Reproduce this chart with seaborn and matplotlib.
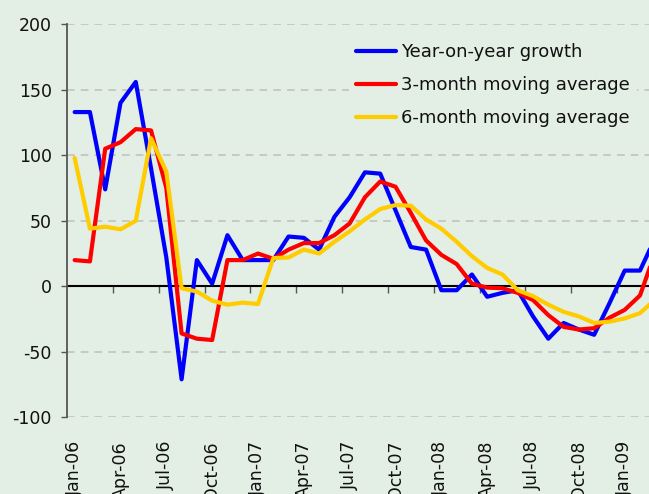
import numpy as np
import pandas as pd
import matplotlib
matplotlib.use("Agg")
import matplotlib.pyplot as plt
import seaborn as sns

# monthly categories Jan-06 .. Mar-09 (last one is cut off by the right edge)
months = pd.date_range("2006-01-01", "2009-03-01", freq="MS").strftime("%b-%y").tolist()

yoy_growth = [133, 133, 74, 140, 156, 90, 22, -71, 20, 2, 39, 20,
              20, 20, 38, 37, 28, 53, 68, 87, 86, 58, 30, 28,
              -3, -3, 9, -8, -5, -3, -23, -40, -28, -33, -37, -13,
              12, 12, 37]
ma3 = [20, 19, 105, 110, 120, 119, 75, -36, -40, -41, 20, 20,
       25, 21, 28, 33, 33, 39, 48, 68, 80, 76, 56, 35,
       24, 17, 2, -1, -1.5, -5, -10.5, -22, -31, -33, -32, -24,
       -18, -7, 26]
ma6 = [98, 44, 45.5, 43.5, 50, 113, 87.5, -1.5, -4, -11, -14, -12.5,
       -13.5, 21.5, 22, 28, 25, 34, 42, 51, 59, 62, 61.5, 51,
       44, 34, 23, 14, 9, -3, -7.5, -14, -19.5, -23, -28, -27,
       -24.5, -20.5, -10]

series_names = ["Year-on-year growth", "3-month moving average", "6-month moving average"]
colors = ["#0000FF", "#FF0000", "#FFCC00"]

bg = "#E3EEE4"

df = pd.concat([
    pd.DataFrame({"pos": np.arange(len(months)), "value": vals, "series": name})
    for name, vals in zip(series_names, [yoy_growth, ma3, ma6])
])

sns.set_style("white")
plt.rcParams["font.family"] = ["DejaVu Sans"]
plt.rcParams["axes.unicode_minus"] = False
plt.rcParams["text.color"] = "#111111"

fig = plt.figure(figsize=(6.49, 4.94), dpi=100, facecolor=bg)
ax = fig.add_axes([67 / 649, 1 - 417.3 / 494, 1 - 67 / 649, (417.3 - 24.3) / 494])
ax.set_facecolor(bg)

sns.lineplot(data=df, x="pos", y="value", hue="series", hue_order=series_names,
             palette=colors, linewidth=3, sort=False, ax=ax, zorder=3)

ax.set_xlim(-0.5, 37.59)
ax.set_ylim(-100, 200)
ax.set_xlabel("")
ax.set_ylabel("")

# y axis
yticks = list(range(-100, 201, 50))
ax.set_yticks(yticks)
ax.tick_params(axis="y", direction="out", length=4, width=1, color="#555555",
               labelsize=12.5, labelcolor="#111111", pad=7, left=True)
ax.yaxis.grid(True, linestyle=(0, (5, 4)), color="#BFBFBF", linewidth=1.1)
ax.xaxis.grid(False)
for t, gl in zip(yticks, ax.get_ygridlines()):
    if t == 0:
        gl.set_visible(False)

# category labels below the plot
ax.set_xticks(range(0, 37, 3))
ax.set_xticklabels(months[0:37:3], rotation=90, va="top", ha="center")
ax.tick_params(axis="x", length=0, labelsize=12.5, labelcolor="#111111", pad=17)

for s in ["top", "right", "bottom"]:
    ax.spines[s].set_visible(False)
ax.spines["left"].set_color("#555555")
ax.spines["left"].set_linewidth(1.3)

# zero line with category-boundary tick marks
ax.axhline(0, color="black", linewidth=1.5, zorder=2)
zero = ax.secondary_xaxis(1 / 3)
zero.set_xticks(np.arange(2.5, 38, 3))
zero.tick_params(axis="x", direction="out", length=5, width=1, color="#555555",
                 labelbottom=False, labeltop=False)
zero.spines["bottom"].set_visible(False)

leg = ax.legend(loc="upper left", bbox_to_anchor=(349 / 649, 1 - 36 / 494),
                bbox_transform=fig.transFigure, borderaxespad=0, borderpad=0.4,
                fontsize=13, handlelength=2.2, handletextpad=0.3, labelspacing=0.82,
                frameon=True, facecolor=bg, edgecolor="none", framealpha=1)
for h in leg.get_lines():
    h.set_linewidth(3)
for t in leg.get_texts():
    t.set_color("#111111")

fig.savefig("out.png", dpi=100, facecolor=bg)
